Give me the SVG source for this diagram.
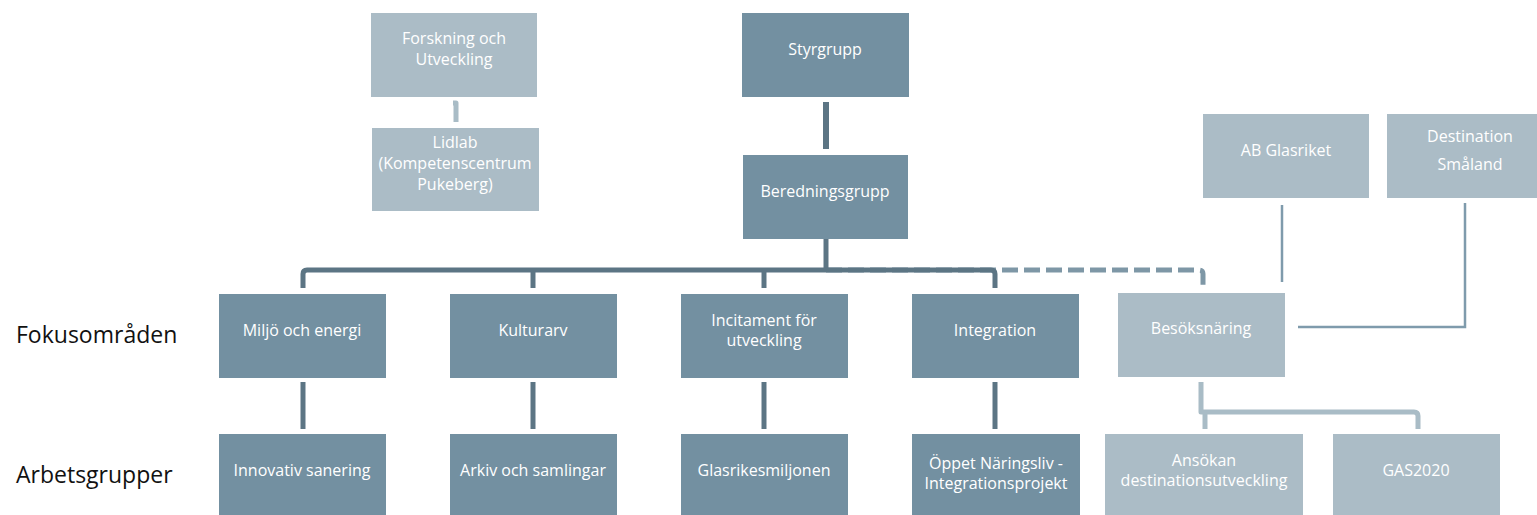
<svg xmlns="http://www.w3.org/2000/svg" width="1537" height="515" viewBox="0 0 1537 515">
<style>
.dk{fill:#7390a1}
.lt{fill:#abbcc6}
.t{font-family:"Open Sans","Liberation Sans",sans-serif;font-size:16px;fill:#ffffff;text-anchor:middle}
.lbl{font-family:"Open Sans","Liberation Sans",sans-serif;font-size:23px;fill:#111111}
.cd{fill:none;stroke:#5c7584;stroke-width:5;stroke-linejoin:round}
.cl{fill:none;stroke:#a9bcc6;stroke-width:5;stroke-linejoin:round}
.cth{fill:none;stroke:#7f9bac;stroke-width:2.5}
</style>
<rect width="1537" height="515" fill="#ffffff"/>
<g id="connectors">
<path class="cl" d="M453,103 H456 V122" stroke-width="4"/>
<path d="M826,102 V149" fill="none" stroke="#5c7584" stroke-width="6"/>
<path d="M826,270 H1199 Q1203,270 1203,274 V287" fill="none" stroke="#7e97a6" stroke-width="5" stroke-dasharray="16 6"/>
<path class="cd" d="M826,239 V270"/>
<path class="cd" d="M303,288 V274 Q303,270 307,270 H991 Q995,270 995,274 V288"/>
<path class="cd" d="M533,270 V288"/>
<path class="cd" d="M764,270 V288"/>
<path class="cd" d="M303,382 V429"/>
<path class="cd" d="M533,382 V429"/>
<path class="cd" d="M764,382 V429"/>
<path class="cd" d="M995,382 V429"/>
<path class="cth" d="M1282,205 V282"/>
<path class="cth" d="M1465,203 V327 H1298"/>
<path class="cl" d="M1201,382 V412 H1414 Q1418,412 1418,416 V429"/>
<path class="cl" d="M1205,412 V429"/>
</g>
<g id="forskning"><rect class="lt" x="371" y="13" width="166" height="84"/><text class="t" x="454" y="44">Forskning och</text><text class="t" x="454" y="65">Utveckling</text></g>
<g id="lidlab"><rect class="lt" x="372" y="128" width="167" height="83"/><text class="t" x="455" y="148">Lidlab</text><text class="t" x="455" y="169">(Kompetenscentrum</text><text class="t" x="455" y="190">Pukeberg)</text></g>
<g id="styrgrupp"><rect class="dk" x="742" y="13" width="167" height="84"/><text class="t" x="825" y="55">Styrgrupp</text></g>
<g id="beredningsgrupp"><rect class="dk" x="743" y="155" width="165" height="84"/><text class="t" x="825" y="197">Beredningsgrupp</text></g>
<g id="abglasriket"><rect class="lt" x="1203" y="114" width="166" height="84"/><text class="t" x="1286" y="156">AB Glasriket</text></g>
<g id="destination"><rect class="lt" x="1387" y="114" width="167" height="84"/><text class="t" x="1470" y="142">Destination</text><text class="t" x="1470" y="170">Småland</text></g>
<g id="miljo"><rect class="dk" x="219" y="294" width="167" height="84"/><text class="t" x="302" y="336">Miljö och energi</text></g>
<g id="kulturarv"><rect class="dk" x="450" y="294" width="167" height="84"/><text class="t" x="533" y="336">Kulturarv</text></g>
<g id="incitament"><rect class="dk" x="681" y="294" width="167" height="84"/><text class="t" x="764" y="326">Incitament för</text><text class="t" x="764" y="346">utveckling</text></g>
<g id="integration"><rect class="dk" x="912" y="294" width="167" height="84"/><text class="t" x="995" y="336">Integration</text></g>
<g id="besoksnaring"><rect class="lt" x="1118" y="293" width="167" height="84"/><text class="t" x="1201" y="334">Besöksnäring</text></g>
<g id="innovativ"><rect class="dk" x="219" y="434" width="167" height="84"/><text class="t" x="302" y="476">Innovativ sanering</text></g>
<g id="arkiv"><rect class="dk" x="450" y="434" width="167" height="84"/><text class="t" x="533" y="476">Arkiv och samlingar</text></g>
<g id="glasrikesmiljonen"><rect class="dk" x="681" y="434" width="167" height="84"/><text class="t" x="764" y="476">Glasrikesmiljonen</text></g>
<g id="oppet"><rect class="dk" x="912" y="434" width="168" height="84"/><text class="t" x="996" y="469">Öppet Näringsliv -</text><text class="t" x="996" y="489">Integrationsprojekt</text></g>
<g id="ansokan"><rect class="lt" x="1105" y="434" width="198" height="84"/><text class="t" x="1204" y="466">Ansökan</text><text class="t" x="1204" y="486">destinationsutveckling</text></g>
<g id="gas2020"><rect class="lt" x="1333" y="434" width="167" height="84"/><text class="t" x="1416" y="476">GAS2020</text></g>
<g id="labels"><text class="lbl" x="16" y="343">Fokusområden</text><text class="lbl" x="16" y="483">Arbetsgrupper</text></g>
</svg>
